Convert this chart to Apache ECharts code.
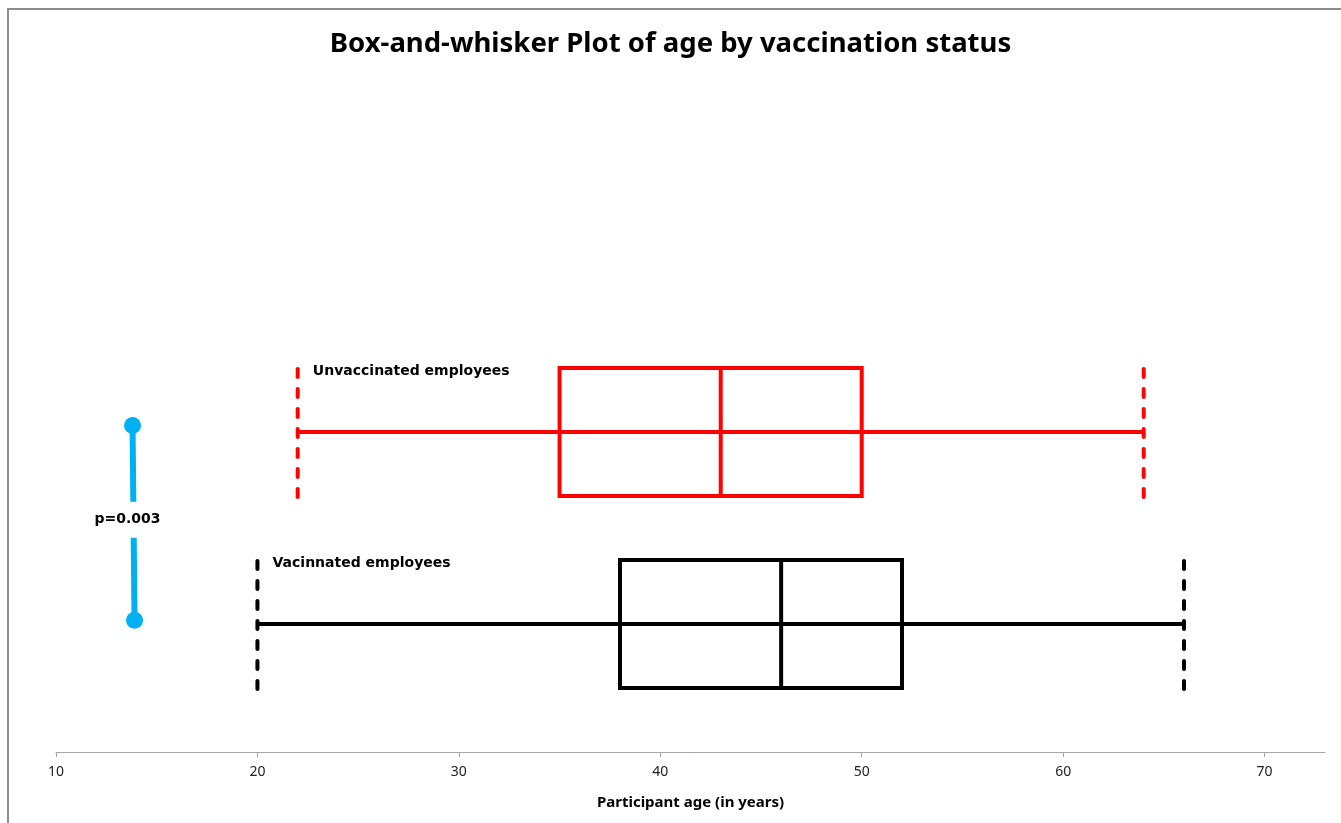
<!DOCTYPE html>
<html>
<head>
<meta charset="utf-8">
<title>Box-and-whisker Plot of age by vaccination status</title>
<script src="https://cdn.jsdelivr.net/npm/echarts@6/dist/echarts.min.js"></script>
<style>
  html, body { margin: 0; padding: 0; background: #fff; }
  #chart { width: 1341px; height: 823px; }
</style>
</head>
<body>
<div id="chart"></div>
<script>
// Age distribution per group (years)
const groups      = ['Vacinnated employees', 'Unvaccinated employees'];
const whiskerLow  = [20, 22];
const quartile1   = [38, 35];
const medians     = [46, 43];
const quartile3   = [52, 50];
const whiskerHigh = [66, 64];
const rowCenter   = [2, 5];          // vertical placement of each row
const rowColors   = ['#000000', '#ff0000'];

// Significance bracket between the two groups
const connectorX = [13.8, 13.9];
const connectorY = [5.1, 2.06];
const pLabel = 'p=0.003';
const pLabelPos = [13.55, 3.63];

const tickValues = [10, 20, 30, 40, 50, 60, 70];

const boxData = groups.map((g, i) => [
  whiskerLow[i], quartile1[i], medians[i], quartile3[i], whiskerHigh[i], rowCenter[i], i
]);

const chart = echarts.init(document.getElementById('chart'));

function renderBox(params, api) {
  const lo = api.value(0), q1 = api.value(1), med = api.value(2),
        q3 = api.value(3), hi = api.value(4), yc = api.value(5), idx = api.value(6);
  const color = rowColors[idx];
  const half = 1;
  const pLo = api.coord([lo, yc]);
  const pHi = api.coord([hi, yc]);
  const pQ1Top = api.coord([q1, yc + half]);
  const pQ3Bot = api.coord([q3, yc - half]);
  const pMedTop = api.coord([med, yc + half]);
  const pMedBot = api.coord([med, yc - half]);
  const loTop = api.coord([lo, yc + half]);
  const loBot = api.coord([lo, yc - half]);
  const hiTop = api.coord([hi, yc + half]);
  const hiBot = api.coord([hi, yc - half]);
  const labelPos = api.coord([lo + 0.75, yc + half]);
  const solid = { stroke: color, lineWidth: 4, fill: null };
  const dashed = { stroke: color, lineWidth: 4, lineDash: [8, 12], lineCap: 'round', fill: null };
  return {
    type: 'group',
    children: [
      { type: 'line', shape: { x1: pLo[0], y1: pLo[1], x2: pHi[0], y2: pHi[1] }, style: solid },
      { type: 'rect', shape: { x: pQ1Top[0], y: pQ1Top[1], width: pQ3Bot[0] - pQ1Top[0], height: pQ3Bot[1] - pQ1Top[1] }, style: solid },
      { type: 'line', shape: { x1: pMedTop[0], y1: pMedTop[1], x2: pMedBot[0], y2: pMedBot[1] }, style: solid },
      { type: 'line', shape: { x1: loTop[0], y1: loTop[1] + 1, x2: loBot[0], y2: loBot[1] + 1 }, style: dashed },
      { type: 'line', shape: { x1: hiTop[0], y1: hiTop[1] + 1, x2: hiBot[0], y2: hiBot[1] + 1 }, style: dashed },
      {
        type: 'text',
        x: labelPos[0], y: labelPos[1] + 3,
        style: {
          text: groups[idx],
          fill: '#000',
          font: 'bold 14px "DejaVu Sans", sans-serif',
          align: 'left',
          verticalAlign: 'middle'
        }
      }
    ]
  };
}

chart.setOption({
  animation: false,
  backgroundColor: '#fff',
  title: {
    text: 'Box-and-whisker Plot of age by vaccination status',
    left: 'center',
    top: 25,
    textStyle: { fontFamily: '"Noto Sans", sans-serif', fontWeight: 'bold', fontSize: 27.5, color: '#000' }
  },
  graphic: [{
    type: 'rect',
    silent: true,
    shape: { x: 8, y: 9, width: 1400, height: 900 },
    style: { fill: null, stroke: '#8c8c8c', lineWidth: 2 }
  }],
  grid: { left: 56, right: 16, top: 112, bottom: 71 },
  xAxis: {
    type: 'value',
    min: 10,
    max: 73,
    interval: 10,
    name: 'Participant age (in years)',
    nameLocation: 'middle',
    nameGap: 43,
    nameTextStyle: { fontFamily: '"Noto Sans", sans-serif', fontWeight: 'bold', fontSize: 15, color: '#000' },
    axisLine: { show: true, lineStyle: { color: '#a6a6a6', width: 1 } },
    axisTick: { show: true, length: 5, customValues: tickValues, lineStyle: { color: '#a6a6a6' } },
    axisLabel: { customValues: tickValues, margin: 13, fontFamily: '"Noto Sans", sans-serif', fontSize: 14, color: '#222' },
    splitLine: { show: false }
  },
  yAxis: { type: 'value', min: 0, max: 10, show: false },
  series: [
    {
      type: 'custom',
      renderItem: renderBox,
      data: boxData,
      encode: { x: [0, 1, 2, 3, 4], y: 5 },
      silent: true
    },
    {
      type: 'line',
      data: connectorX.map((x, i) => [x, connectorY[i]]),
      symbol: 'circle',
      symbolSize: 17,
      showAllSymbol: true,
      lineStyle: { color: '#00b0f0', width: 6 },
      itemStyle: { color: '#00b0f0' },
      silent: true,
      z: 3
    },
    {
      type: 'scatter',
      data: [pLabelPos],
      symbolSize: 0,
      silent: true,
      z: 4,
      itemStyle: { opacity: 1 },
      label: {
        show: true,
        position: 'inside',
        formatter: pLabel,
        fontFamily: '"DejaVu Sans", sans-serif',
        fontWeight: 'bold',
        fontSize: 14,
        color: '#000',
        backgroundColor: '#fff',
        padding: [11, 3]
      }
    }
  ]
});
</script>
</body>
</html>
